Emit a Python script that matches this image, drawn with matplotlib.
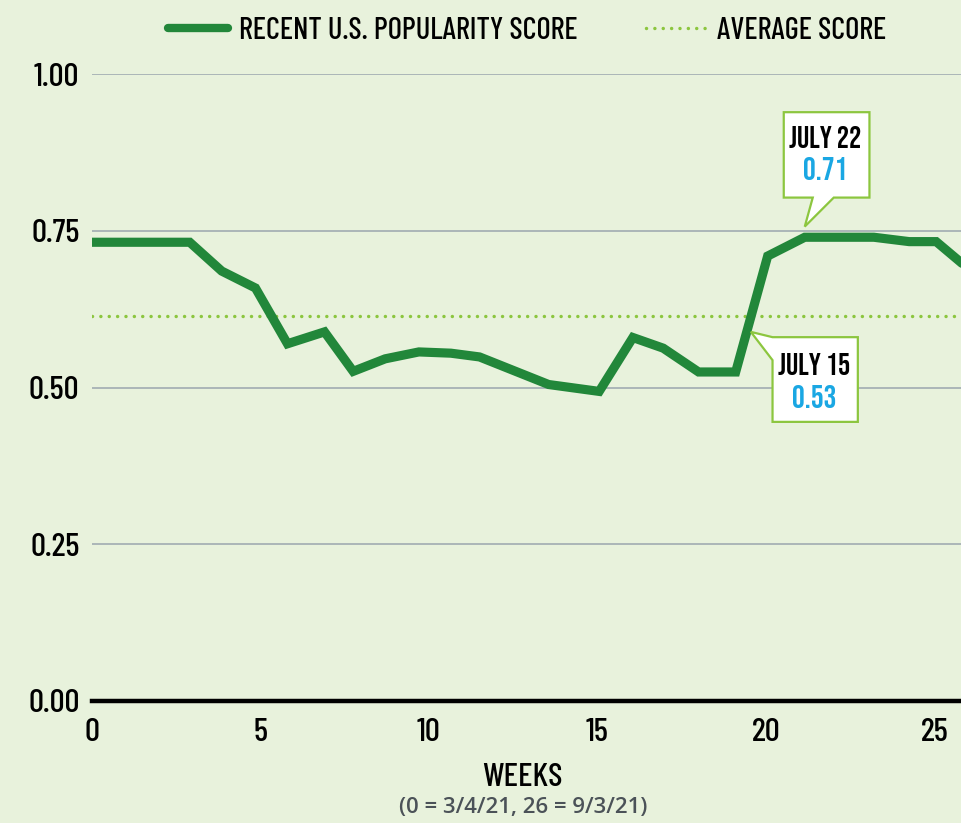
"""Recent U.S. popularity score by week, with callouts."""

import matplotlib

matplotlib.use("Agg")

import matplotlib.pyplot as plt
from matplotlib.lines import Line2D
from matplotlib.patches import Polygon
from matplotlib.transforms import Affine2D, ScaledTranslation

# data
weeks = [0, 2.9, 3.85, 4.85, 5.8, 6.9, 7.75, 8.7, 9.7, 10.65, 11.5, 13.55,
         15.05, 16.05, 16.95, 18.0, 19.1, 20.05, 21.15, 23.2, 24.25, 25.05, 26]
score = [0.732, 0.732, 0.686, 0.659, 0.570, 0.589, 0.526, 0.546, 0.557, 0.555,
         0.549, 0.505, 0.494, 0.580, 0.563, 0.525, 0.525, 0.710, 0.740, 0.740,
         0.733, 0.733, 0.690]
average_score = 0.615
y_ticks = [0.0, 0.25, 0.5, 0.75, 1.0]
x_ticks = [0, 5, 10, 15, 20, 25]
callouts = [
    # label, value text, anchor (week, score)
    ("JULY 22", "0.71", (21.15, 0.757)),
    ("JULY 15", "0.53", (19.55, 0.589)),
]

BG = "#e8f2dc"
GREEN = "#22873a"
LIME = "#8cc63f"
BLUE = "#1aa7e3"
GRID = "#9ba6ae"
COND = ["Barlow Condensed", "DejaVu Sans"]
CALL = ["Bebas Neue", "Barlow Condensed", "DejaVu Sans"]

W, H = 961, 823
fig = plt.figure(figsize=(W / 100, H / 100), dpi=100, facecolor=BG)
ax = fig.add_axes([92 / W, (H - 701) / H, (W - 92) / W, 626.7 / H])
ax.set_facecolor(BG)
ax.set_xlim(0, (W - 92) / 33.7)
ax.set_ylim(0, 1.0)
for s in ax.spines.values():
    s.set_visible(False)

for yv in y_ticks[1:]:
    ax.axhline(yv, color=GRID, lw=1.1, zorder=1)
ax.axhline(0, color="black", lw=3.2, zorder=4, clip_on=False)

dots = dict(color=LIME, lw=2.5, linestyle=(0, (0.01, 2.4)), dash_capstyle="round")
ax.axhline(average_score, zorder=2, **dots)
ax.plot(weeks, score, color=GREEN, lw=6.6, solid_capstyle="round",
        solid_joinstyle="miter", zorder=3)

tick_font = dict(family=COND, fontsize=24, fontweight="medium")
ax.set_xticks(x_ticks)
ax.set_xticklabels([str(t) for t in x_ticks], **tick_font)
ax.set_yticks(y_ticks)
ax.set_yticklabels([f"{t:.2f}" for t in y_ticks], **tick_font)
ax.tick_params(length=0)
ax.tick_params(axis="x", pad=12)
ax.tick_params(axis="y", pad=9)

fig.text(522 / W, 1 - 778 / H, "WEEKS", ha="center", va="center", **tick_font)
fig.text(523 / W, 1 - 808 / H, "(0 = 3/4/21, 26 = 9/3/21)", family="Open Sans",
         fontweight="semibold", fontsize=16, color="#4b5258",
         ha="center", va="center")

handles = [
    Line2D([], [], color=GREEN, lw=6, solid_capstyle="round"),
    Line2D([], [], **dots),
]
fig.legend(handles, ["RECENT U.S. POPULARITY SCORE", "AVERAGE SCORE"],
           loc="center", bbox_to_anchor=(527 / W, 1 - 31 / H), ncol=2,
           frameon=False, prop={"family": COND, "size": 22, "weight": "medium"},
           handlelength=1.95, handletextpad=0.36, columnspacing=2.25)

# callout shapes, in pixels relative to the tip (y up)
shapes = {
    "JULY 22": dict(poly=[(0, 0), (29, 29), (64.7, 29), (64.7, 114.4), (-21, 114.4),
                          (-21, 29), (8, 29)],
                    title=(20.7, 90), value=(20.7, 58.4)),
    "JULY 15": dict(poly=[(0, 0), (21.7, -5.3), (107, -5.3), (107, -90), (21.7, -90),
                          (21.7, -28.3)],
                    title=(63, -32), value=(63.3, -64.3)),
}
for label, value, (cx, cy) in callouts:
    shape = shapes[label]
    tr = Affine2D().scale(fig.dpi / 100) + ScaledTranslation(cx, cy, ax.transData)
    ax.add_patch(Polygon(shape["poly"], closed=True, facecolor="white",
                         edgecolor=LIME, lw=1.6, transform=tr, zorder=5,
                         clip_on=False))
    ax.text(*shape["title"], label, transform=tr, family=CALL, fontweight="semibold",
            fontsize=22, ha="center", va="center", zorder=6)
    ax.text(*shape["value"], value, transform=tr, family=CALL, fontweight="medium",
            fontsize=23, color=BLUE, ha="center", va="center", zorder=6)

fig.savefig("out.png", dpi=100, facecolor=BG)
